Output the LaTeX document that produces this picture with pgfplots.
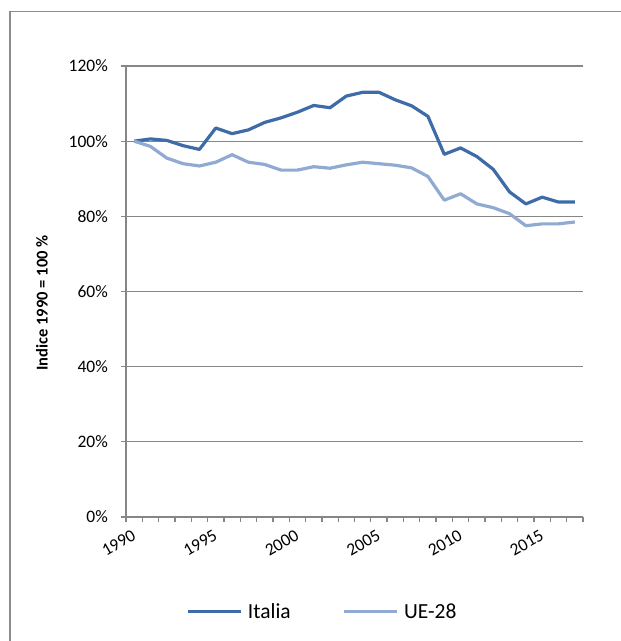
\documentclass[border=0pt]{standalone}
\usepackage{pgfplots}
\pgfplotsset{compat=1.18}
\usepackage{fontspec}
\setmainfont{Carlito}
\definecolor{itcol}{RGB}{62,108,167}
\definecolor{uecol}{RGB}{144,170,210}
\definecolor{gridc}{RGB}{134,134,134}
\definecolor{framec}{RGB}{140,140,140}
\begin{document}
\begin{tikzpicture}
\path[use as bounding box] (0,0) rectangle (621pt,641pt);
\draw[framec, line width=1.5pt] (10pt,-2pt) -- (10pt,629.5pt) -- (623pt,629.5pt);
\begin{axis}[
  at={(126pt,124pt)}, anchor=south west,
  scale only axis, width=457pt, height=451pt,
  xmin=-0.5, xmax=27.5, ymin=0, ymax=120,
  axis x line*=bottom, axis y line*=left,
  axis line style={gridc, line width=1.3pt},
  tick align=outside,
  major tick length=0pt,
  minor tick length=5pt,
  tick style={gridc, line width=1.3pt},
  ytick={0,20,...,120},
  minor ytick={0,20,...,120},
  yticklabel={\pgfmathprintnumber{\tick}\%},
  /pgf/number format/assume math mode=true,
  yticklabel style={font=\fontsize{17.5}{20}\selectfont, inner sep=0pt, anchor=east, xshift=-18pt},
  xtick={0,5,10,15,20,25},
  xticklabels={1990,1995,2000,2005,2010,2015},
  minor xtick={-0.5,0.5,...,27.5},
  xticklabel style={font=\fontsize{17.5}{20}\selectfont, inner sep=0pt, xshift=-3pt, yshift=-12pt, rotate=30, anchor=north east},
  ymajorgrids,
  grid style={gridc, line width=1.3pt},
  legend columns=2,
  legend style={draw=none, fill=none, at={(axis description cs:0.428,-0.21)}, anchor=center,
    font=\fontsize{21.5}{24}\selectfont, inner sep=0pt,
    nodes={inner sep=0pt},
    /tikz/every odd column/.append style={column sep=5pt},
    /tikz/every even column/.append style={column sep=52pt}},
  legend image code/.code={\draw[#1] (0pt,0pt) -- (53pt,0pt);},
]
\addplot[itcol, line width=3.2pt, line join=round] coordinates {
(0,100) (1,100.6) (2,100.2) (3,98.8) (4,97.8) (5,103.5) (6,102) (7,103) (8,105) (9,106.2)
(10,107.7) (11,109.5) (12,108.9) (13,112) (14,113) (15,113) (16,111) (17,109.4) (18,106.6) (19,96.5)
(20,98.2) (21,95.9) (22,92.5) (23,86.5) (24,83.3) (25,85.1) (26,83.8) (27,83.8)};
\addlegendentry{Italia}
\addplot[uecol, line width=3.2pt, line join=round] coordinates {
(0,100) (1,98.6) (2,95.5) (3,94) (4,93.4) (5,94.4) (6,96.4) (7,94.4) (8,93.8) (9,92.3)
(10,92.3) (11,93.2) (12,92.8) (13,93.7) (14,94.4) (15,94) (16,93.6) (17,92.9) (18,90.6) (19,84.3)
(20,86) (21,83.3) (22,82.3) (23,80.7) (24,77.5) (25,78) (26,78) (27,78.5)};
\addlegendentry{UE-28}
\end{axis}
\node[rotate=90, font=\bfseries\fontsize{16.5}{20}\selectfont] at (42pt,338pt) {Indice 1990 = 100 \%};
\end{tikzpicture}
\end{document}
